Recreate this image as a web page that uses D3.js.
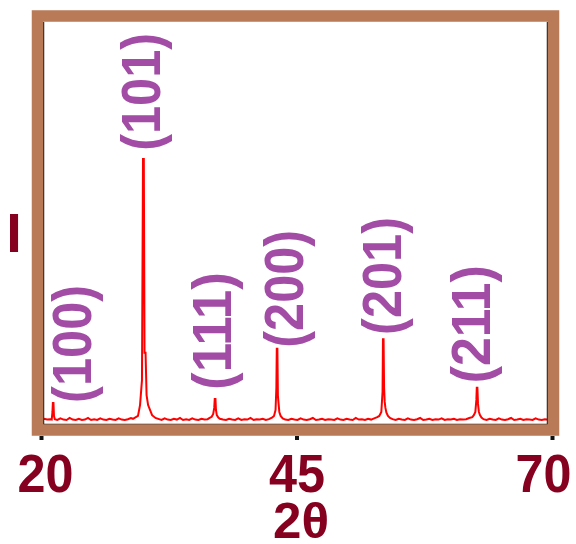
<!DOCTYPE html>
<html>
<head>
<meta charset="utf-8">
<script src="https://cdn.jsdelivr.net/npm/d3@7"></script>
<style>
  html, body { margin: 0; padding: 0; background: #fff; }
  svg { display: block; }
</style>
</head>
<body>
<svg id="chart" width="576" height="544"></svg>
<script>
// x ticks (2θ)
const xTicks = [20, 45, 70];

// Measured pattern: [2θ, intensity]
const pattern = [
  [20.0, 11], [20.3, 13], [20.6, 11], [20.9, 12],
  [21.05, 11], [21.12, 30], [21.16, 52], [21.22, 52], [21.27, 20], [21.35, 12],
  [21.6, 10], [21.9, 14], [22.2, 11], [22.5, 10], [22.8, 15], [23.1, 11], [23.4, 10],
  [23.7, 13], [24.0, 10], [24.3, 11], [24.6, 15], [24.9, 10], [25.2, 12], [25.5, 10],
  [25.8, 14], [26.1, 11], [26.4, 10], [26.7, 13], [27.0, 11], [27.3, 10], [27.6, 14],
  [27.9, 11], [28.2, 10], [28.5, 12], [28.8, 15], [29.0, 13], [29.2, 16],
  [29.49, 20], [29.69, 47], [29.88, 109], [29.98, 659], [30.06, 659], [30.13, 177],
  [30.23, 177], [30.33, 72], [30.48, 47], [30.87, 22], [31.2, 15], [31.55, 12],
  [31.8, 10], [32.1, 14], [32.4, 11], [32.7, 10], [33.0, 13], [33.3, 11], [33.6, 15],
  [33.9, 10], [34.2, 12], [34.5, 10], [34.8, 14], [35.1, 11], [35.4, 10], [35.7, 13],
  [36.0, 11], [36.3, 12], [36.5, 15],
  [36.7, 18], [36.85, 25], [36.95, 40], [37.0, 62], [37.07, 62], [37.12, 35], [37.2, 22],
  [37.35, 16], [37.5, 13], [37.8, 11],
  [38.1, 10], [38.4, 13], [38.7, 11], [39.0, 10], [39.3, 14], [39.6, 10], [39.9, 12],
  [40.2, 11], [40.5, 15], [40.8, 10], [41.1, 12], [41.4, 11], [41.7, 13], [42.0, 10],
  [42.3, 12], [42.6, 16],
  [42.8, 20], [42.95, 35], [43.03, 90], [43.07, 187], [43.13, 187], [43.18, 70],
  [43.25, 50], [43.32, 30], [43.45, 20], [43.65, 14], [43.9, 11],
  [44.2, 10], [44.5, 13], [44.8, 11], [45.1, 10], [45.4, 14], [45.7, 11], [46.0, 10],
  [46.3, 12], [46.6, 15], [46.9, 10], [47.2, 11], [47.5, 13], [47.8, 10], [48.1, 12],
  [48.4, 11], [48.7, 10], [49.0, 14], [49.3, 11], [49.6, 10], [49.9, 13], [50.2, 11],
  [50.5, 10], [50.8, 15], [51.1, 11], [51.4, 12], [51.7, 10], [52.0, 13], [52.3, 11],
  [52.6, 14], [52.9, 17],
  [53.1, 20], [53.3, 30], [53.42, 80], [53.46, 211], [53.52, 211], [53.57, 90],
  [53.63, 55], [53.7, 40], [53.8, 28], [53.95, 20], [54.15, 15], [54.4, 12],
  [54.7, 10], [55.0, 13], [55.3, 11], [55.6, 10], [55.9, 14], [56.2, 11], [56.5, 10],
  [56.8, 12], [57.1, 15], [57.4, 10], [57.7, 11], [58.0, 13], [58.3, 10], [58.6, 12],
  [58.9, 11], [59.2, 14], [59.5, 10], [59.8, 12], [60.1, 11], [60.4, 13], [60.7, 10],
  [61.0, 12], [61.3, 11], [61.6, 12], [61.9, 15], [62.2, 17],
  [62.35, 22], [62.5, 30], [62.6, 60], [62.64, 90], [62.7, 90], [62.76, 50], [62.85, 30],
  [62.95, 22], [63.1, 16], [63.3, 12],
  [63.6, 10], [63.9, 13], [64.2, 11], [64.5, 10], [64.8, 14], [65.1, 11], [65.4, 10],
  [65.7, 12], [66.0, 15], [66.3, 10], [66.6, 11], [66.9, 13], [67.2, 10], [67.5, 12],
  [67.8, 11], [68.1, 10], [68.4, 14], [68.7, 11], [69.0, 10], [69.3, 12], [69.6, 11],
  [69.9, 10]
];

// Reflection labels
const hkl = ['(100)', '(101)', '(111)', '(200)', '(201)', '(211)'];
const labelTheta = [23.52, 30.27, 37.2, 44.27, 53.86, 62.56];
const labelBase = [60, 687, 92, 197, 229, 109];

const svg = d3.select('#chart');
const labelRed = '#860020';
const purple = '#a24ca6';

const x = d3.scaleLinear().domain([20, 70]).range([41, 552]);
const y = d3.scaleLinear().domain([0, 1000]).range([424, 22]);

// Plot clip (inner frame)
svg.append('defs').append('clipPath')
  .attr('id', 'plotClip')
  .append('rect')
  .attr('x', 43).attr('y', 22).attr('width', 504).attr('height', 402);

// Pattern line
const line = d3.line()
  .x(d => x(d[0]))
  .y(d => y(d[1]));

svg.append('path')
  .datum(pattern)
  .attr('clip-path', 'url(#plotClip)')
  .attr('fill', 'none')
  .attr('stroke', '#ff0000')
  .attr('stroke-width', 2)
  .attr('stroke-linejoin', 'miter')
  .attr('d', line);

// Inner dark edges
svg.append('path')
  .attr('d', 'M43.5,22V424.5H547.5V22')
  .attr('fill', 'none')
  .attr('stroke', '#222')
  .attr('stroke-width', 1.5);

// Brown frame
svg.append('rect')
  .attr('x', 37.5).attr('y', 16).attr('width', 516).attr('height', 414)
  .attr('fill', 'none')
  .attr('stroke', '#b97a57')
  .attr('stroke-width', 11.5);

// Reflection labels
svg.append('g')
  .selectAll('text')
  .data(hkl)
  .enter()
  .append('text')
  .attr('transform', (d, i) => `translate(${x(labelTheta[i]) + 14},${y(labelBase[i]) + 3}) rotate(-90)`)
  .attr('font-family', 'Liberation Sans, Arial, sans-serif')
  .attr('font-weight', 'bold')
  .attr('font-size', 55)
  .attr('fill', purple)
  .attr('textLength', 118)
  .attr('lengthAdjust', 'spacingAndGlyphs')
  .text(d => d);

// X axis
const xAxis = d3.axisBottom(x).tickValues(xTicks).tickSize(4).tickFormat(d3.format('d'));
const gx = svg.append('g')
  .attr('transform', 'translate(0,436)')
  .call(xAxis);
gx.select('.domain').remove();
gx.selectAll('.tick line').attr('stroke', '#111').attr('stroke-width', 4);
const labelShift = [4, 0, -9];
gx.selectAll('.tick text')
  .attr('y', 56)
  .attr('dy', 0)
  .attr('dx', (d, i) => labelShift[i])
  .attr('font-family', 'Liberation Sans, Arial, sans-serif')
  .attr('font-weight', 'bold')
  .attr('font-size', 54)
  .attr('fill', labelRed)
  .attr('textLength', 56)
  .attr('lengthAdjust', 'spacingAndGlyphs');

// Axis titles
svg.append('text')
  .attr('x', 301).attr('y', 538)
  .attr('text-anchor', 'middle')
  .attr('font-family', 'Liberation Sans, Arial, sans-serif')
  .attr('font-weight', 'bold')
  .attr('font-size', 50)
  .attr('fill', labelRed)
  .attr('textLength', 56)
  .attr('lengthAdjust', 'spacingAndGlyphs')
  .text('2θ');

svg.append('text')
  .attr('x', 14).attr('y', 252)
  .attr('text-anchor', 'middle')
  .attr('font-family', 'Liberation Sans, Arial, sans-serif')
  .attr('font-weight', 'bold')
  .attr('font-size', 56)
  .attr('fill', labelRed)
  .text('I');
</script>
</body>
</html>
